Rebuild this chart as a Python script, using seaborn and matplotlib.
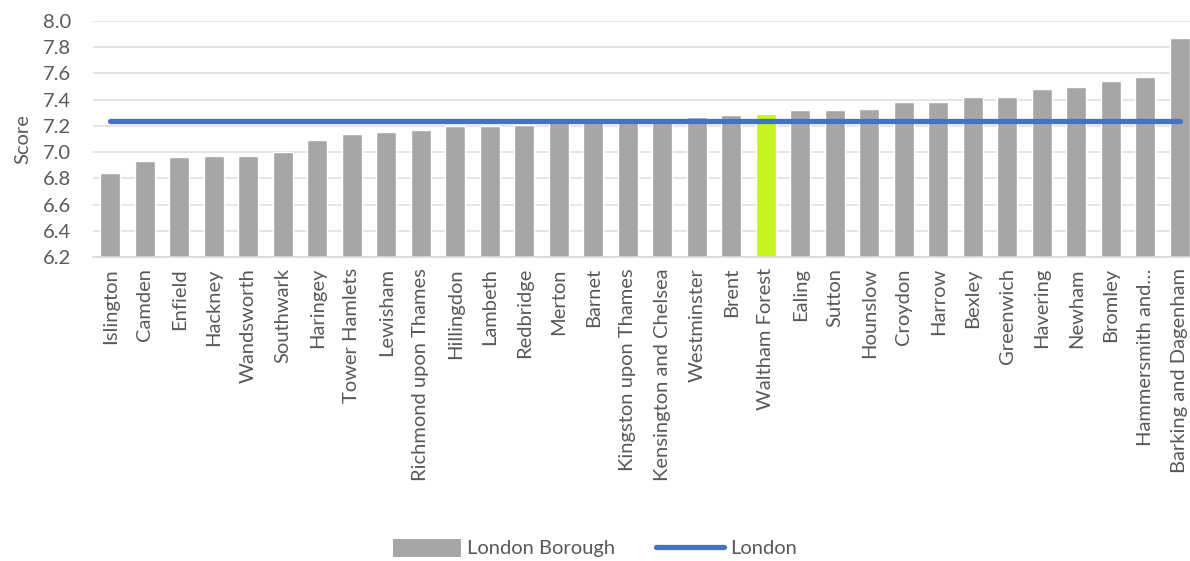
import matplotlib
matplotlib.use("Agg")
import matplotlib.pyplot as plt
import seaborn as sns
import pandas as pd
from matplotlib.patches import Patch
from matplotlib.lines import Line2D

boroughs = ["Islington", "Camden", "Enfield", "Hackney", "Wandsworth", "Southwark",
            "Haringey", "Tower Hamlets", "Lewisham", "Richmond upon Thames", "Hillingdon",
            "Lambeth", "Redbridge", "Merton", "Barnet", "Kingston upon Thames",
            "Kensington and Chelsea", "Westminster", "Brent", "Waltham Forest", "Ealing",
            "Sutton", "Hounslow", "Croydon", "Harrow", "Bexley", "Greenwich", "Havering",
            "Newham", "Bromley", "Hammersmith and…", "Barking and Dagenham"]
scores = [6.84, 6.93, 6.96, 6.97, 6.97, 7.00, 7.09, 7.14, 7.15, 7.17, 7.20, 7.20, 7.21,
          7.23, 7.23, 7.24, 7.25, 7.27, 7.28, 7.29, 7.32, 7.32, 7.33, 7.38, 7.38, 7.42,
          7.42, 7.48, 7.50, 7.54, 7.57, 7.87]
london = 7.24
highlight = "Waltham Forest"

df = pd.DataFrame({"Borough": boroughs, "Score": scores})
df["London"] = london

sns.set_style("white")
plt.rcParams["font.family"] = ["Lato", "DejaVu Sans"]
txt = "#595959"
fs = 14.5

fig = plt.figure(figsize=(11.9, 5.61), dpi=100)
ax = fig.add_axes([93 / 1190, 1 - 257 / 561, (1197 - 93) / 1190, (257 - 21) / 561])

palette = ["#c5f521" if b == highlight else "#a6a6a6" for b in boroughs]
sns.barplot(data=df, x="Borough", y="Score", hue="Borough", palette=palette,
            width=0.58, legend=False, ax=ax, saturation=1, zorder=2)
sns.lineplot(data=df, x="Borough", y="London", color="#4472c4", linewidth=3.8,
             solid_capstyle="round", ax=ax, zorder=3, sort=False)

ax.set_ylim(6.2, 8.0)
ax.set_xlim(-0.5, len(boroughs) - 0.5)
ax.set_yticks([6.2 + 0.2 * i for i in range(10)])
ax.set_yticklabels([f"{6.2 + 0.2 * i:.1f}" for i in range(10)])
ax.yaxis.grid(True, color="#e0e0e0", linewidth=1.2, zorder=0)
ax.set_axisbelow(True)
for s in ["top", "right", "left"]:
    ax.spines[s].set_visible(False)
ax.spines["bottom"].set_color("#d9d9d9")
ax.spines["bottom"].set_linewidth(1.2)
ax.tick_params(axis="x", rotation=90, labelsize=fs, colors=txt, length=0, pad=8)
ax.tick_params(axis="y", labelsize=fs, colors=txt, length=0, pad=16)
ax.set_xlabel("")
ax.set_ylabel("Score", fontsize=fs, color=txt, labelpad=8)

handles = [Patch(facecolor="#a6a6a6", edgecolor="none"),
           Line2D([0], [0], color="#4472c4", linewidth=3.8, solid_capstyle="round")]
fig.legend(handles, ["London Borough", "London"], loc="center", bbox_to_anchor=(0.5, 1 - 548 / 561),
           ncol=2, frameon=False, fontsize=fs, labelcolor=txt, handlelength=3.4,
           handleheight=1.0, columnspacing=2.0, handletextpad=0.3)

fig.savefig("out.png", dpi=100)
